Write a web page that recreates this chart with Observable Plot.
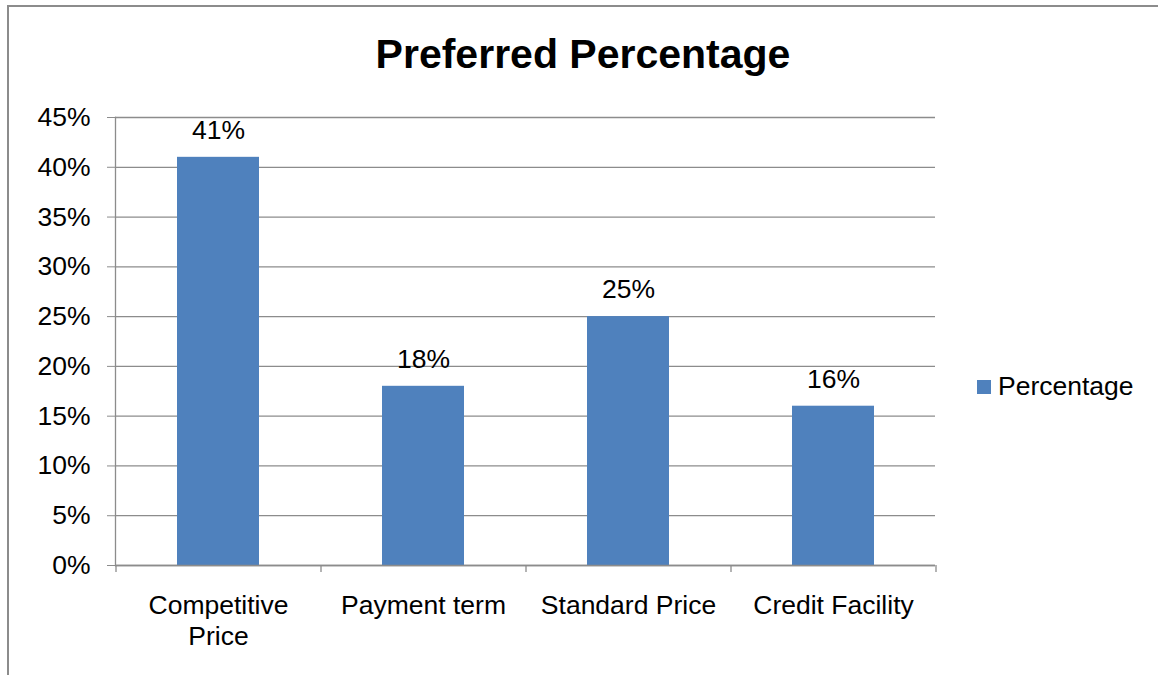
<!DOCTYPE html>
<html>
<head>
<meta charset="utf-8">
<script src="https://cdn.jsdelivr.net/npm/d3@7"></script>
<script src="https://cdn.jsdelivr.net/npm/@observablehq/plot@0.6"></script>
<style>
  html, body { margin: 0; padding: 0; background: #fff; }
  #wrap { position: relative; width: 1158px; height: 675px; overflow: hidden; font-family: "Liberation Sans", Arial, sans-serif; }
  #border { position: absolute; left: 7px; top: 5px; right: -10px; bottom: -10px; border-top: 2px solid #8c8c8c; border-left: 2px solid #8c8c8c; }
  #title { position: absolute; left: 0; width: 1166px; top: 31px; text-align: center; font-family: "Liberation Sans", Arial, sans-serif; font-weight: bold; font-size: 41px; color: #000; }
  #legend { position: absolute; left: 977px; top: 371px; font-size: 26.5px; color: #000; display: flex; align-items: center; }
  #legend .sw { width: 14px; height: 14px; background: #4F81BD; margin-right: 7px; }
  #chart { position: absolute; left: 0; top: 0; }
</style>
</head>
<body>
<div id="wrap">
  <div id="border"></div>
  <div id="chart"></div>
  <div id="title">Preferred Percentage</div>
  <div id="legend"><div class="sw"></div><span id="legendLabel"></span></div>
</div>
<script>
const categories = ["Competitive Price", "Payment term", "Standard Price", "Credit Facility"];
const values = [0.41, 0.18, 0.25, 0.16];
const seriesName = "Percentage";
const yTicks = [0, 0.05, 0.10, 0.15, 0.20, 0.25, 0.30, 0.35, 0.40, 0.45];
const xLabels = ["Competitive\nPrice", "Payment term", "Standard Price", "Credit Facility"];

const data = categories.map((c, i) => ({category: c, value: values[i]}));
document.getElementById("legendLabel").textContent = seriesName;

const W = 1158, H = 675;
const mL = 115, mR = 223, mT = 117, mB = 110;
const step = (W - mL - mR) / 4;
const grey = "#8c8c8c";
const fmt = d3.format(".0%");
const fs = 26.5;

const chart = Plot.plot({
  width: W,
  height: H,
  marginLeft: mL,
  marginRight: mR,
  marginTop: mT,
  marginBottom: mB,
  style: {fontFamily: "'Liberation Sans', Arial, sans-serif", fontSize: fs + "px", color: "#000", background: "transparent"},
  x: {domain: categories, paddingInner: 0.6, paddingOuter: 0.3, label: null},
  y: {domain: [0, 0.45], label: null},
  marks: [
    Plot.gridY(yTicks, {stroke: grey, strokeOpacity: 1, strokeWidth: 1.3}),
    Plot.axisY(yTicks, {tickFormat: fmt, tickSize: 8, tickPadding: 17, stroke: grey, strokeOpacity: 1, fill: "#000", fontSize: fs, label: null}),
    Plot.frame({anchor: "left", stroke: grey, strokeWidth: 1.3}),
    Plot.barY(data, {x: "category", y: "value", fill: "#4F81BD"}),
    Plot.ruleY([0], {stroke: grey, strokeWidth: 1.3}),
    Plot.ruleX(categories, {x: d => d, y1: 0, y2: 0, dx: -step / 2, insetBottom: -7, stroke: grey, strokeWidth: 1.3}),
    Plot.ruleX(categories.slice(-1), {x: d => d, y1: 0, y2: 0, dx: step / 2, insetBottom: -7, stroke: grey, strokeWidth: 1.3}),
    Plot.axisX({tickSize: 0, tickPadding: 26, tickFormat: (d) => xLabels[categories.indexOf(d)], lineHeight: 1.17, fill: "#000", fontSize: fs, label: null}),
    Plot.text(data, {x: "category", y: "value", text: d => fmt(d.value), dy: -27, fontSize: fs, fill: "#000"})
  ]
});
document.getElementById("chart").appendChild(chart);
</script>
</body>
</html>
